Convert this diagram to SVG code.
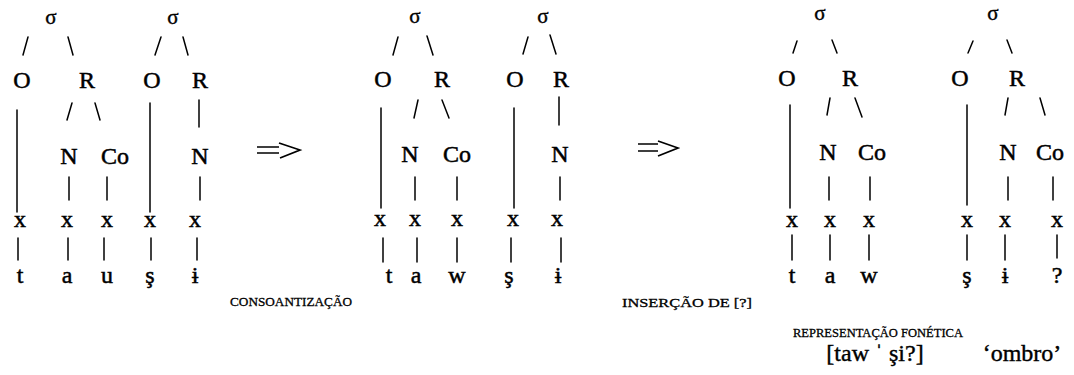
<svg xmlns="http://www.w3.org/2000/svg" width="1074" height="375" viewBox="0 0 1074 375">
  <style>
    text { font-family: "Liberation Serif", "DejaVu Serif", serif; fill: #000; text-anchor: middle; }
    .lab { font-size: 24px; stroke: #000; stroke-width: 0.5; }
    .sig { font-size: 21px; stroke: #000; stroke-width: 0.4; }
    .seg { font-size: 24px; stroke: #000; stroke-width: 0.5; }
    .cap { font-size: 13px; stroke: #000; stroke-width: 0.3; }
    .tr  { font-size: 24px; stroke: #000; stroke-width: 0.4; }
    .edge { stroke: #000; stroke-width: 1.5; fill: none; stroke-linecap: round; }
    .arr  { stroke: #000; stroke-width: 1.7; fill: none; stroke-linejoin: miter; }
  </style>
  <rect width="1074" height="375" fill="#fff"/>

  <!-- tree edges -->
  <g id="connectors">
    <!-- underlying form, syllable 1 -->
    <line class="edge" x1="23" y1="55" x2="28" y2="37"/>
    <line class="edge" x1="68" y1="37" x2="73" y2="55"/>
    <line class="edge" x1="67" y1="120" x2="72" y2="103"/>
    <line class="edge" x1="95" y1="103" x2="100" y2="120"/>
    <line class="edge" x1="17" y1="110" x2="17" y2="212"/>
    <line class="edge" x1="69" y1="177" x2="69" y2="200"/>
    <line class="edge" x1="107" y1="177" x2="107" y2="200"/>
    <line class="edge" x1="18" y1="238" x2="18" y2="260"/>
    <line class="edge" x1="68" y1="238" x2="68" y2="260"/>
    <line class="edge" x1="104" y1="238" x2="104" y2="260"/>
    <!-- underlying form, syllable 2 -->
    <line class="edge" x1="155" y1="55" x2="161" y2="37"/>
    <line class="edge" x1="183" y1="37" x2="188" y2="55"/>
    <line class="edge" x1="199" y1="100" x2="199" y2="127"/>
    <line class="edge" x1="150" y1="103" x2="150" y2="212"/>
    <line class="edge" x1="200" y1="177" x2="200" y2="200"/>
    <line class="edge" x1="151" y1="238" x2="151" y2="260"/>
    <line class="edge" x1="197" y1="238" x2="197" y2="260"/>
    <!-- after consonantization, syllable 1 -->
    <line class="edge" x1="393" y1="55" x2="398" y2="37"/>
    <line class="edge" x1="427" y1="36" x2="433" y2="55"/>
    <line class="edge" x1="414" y1="118" x2="418" y2="100"/>
    <line class="edge" x1="442" y1="100" x2="449" y2="118"/>
    <line class="edge" x1="381" y1="108" x2="381" y2="208"/>
    <line class="edge" x1="415" y1="177" x2="415" y2="200"/>
    <line class="edge" x1="457" y1="177" x2="457" y2="200"/>
    <line class="edge" x1="383" y1="238" x2="383" y2="262"/>
    <line class="edge" x1="417" y1="238" x2="417" y2="262"/>
    <line class="edge" x1="457" y1="238" x2="457" y2="262"/>
    <!-- after consonantization, syllable 2 -->
    <line class="edge" x1="523" y1="54" x2="528" y2="37"/>
    <line class="edge" x1="550" y1="35" x2="556" y2="54"/>
    <line class="edge" x1="559" y1="97" x2="559" y2="125"/>
    <line class="edge" x1="514" y1="108" x2="514" y2="208"/>
    <line class="edge" x1="560" y1="177" x2="560" y2="200"/>
    <line class="edge" x1="511" y1="238" x2="511" y2="262"/>
    <line class="edge" x1="561" y1="238" x2="561" y2="262"/>
    <!-- phonetic form, syllable 1 -->
    <line class="edge" x1="793" y1="53" x2="797" y2="41"/>
    <line class="edge" x1="832" y1="40" x2="837" y2="53"/>
    <line class="edge" x1="827" y1="115" x2="830" y2="98"/>
    <line class="edge" x1="855" y1="98" x2="862" y2="117"/>
    <line class="edge" x1="790" y1="105" x2="790" y2="208"/>
    <line class="edge" x1="829" y1="177" x2="829" y2="200"/>
    <line class="edge" x1="870" y1="177" x2="870" y2="200"/>
    <line class="edge" x1="792" y1="235" x2="792" y2="260"/>
    <line class="edge" x1="830" y1="235" x2="830" y2="260"/>
    <line class="edge" x1="869" y1="235" x2="869" y2="260"/>
    <!-- phonetic form, syllable 2 -->
    <line class="edge" x1="968" y1="53" x2="973" y2="41"/>
    <line class="edge" x1="1007" y1="40" x2="1012" y2="53"/>
    <line class="edge" x1="1005" y1="115" x2="1008" y2="98"/>
    <line class="edge" x1="1040" y1="98" x2="1045" y2="115"/>
    <line class="edge" x1="967" y1="105" x2="967" y2="205"/>
    <line class="edge" x1="1008" y1="177" x2="1008" y2="200"/>
    <line class="edge" x1="1053" y1="177" x2="1053" y2="200"/>
    <line class="edge" x1="967" y1="235" x2="967" y2="260"/>
    <line class="edge" x1="1005" y1="235" x2="1005" y2="260"/>
    <line class="edge" x1="1057" y1="235" x2="1057" y2="258"/>
  </g>

  <!-- derivation arrows -->
  <g id="arrows">
    <path class="arr" d="M257 147 H279 M257 153 H279 M279 143 L300 150 L280 158"/>
    <path class="arr" d="M638 144 H658 M638 151 H658 M658 141 L678 148 L658 156"/>
  </g>

  <!-- underlying form -->
  <g id="u-s1-sigma"><text class="sig" x="51" y="24">σ</text></g>
  <g id="u-s1-O"><text class="lab" x="22" y="88">O</text></g>
  <g id="u-s1-R"><text class="lab" x="87" y="88">R</text></g>
  <g id="u-s1-N"><text class="lab" x="69" y="164">N</text></g>
  <g id="u-s1-Co"><text class="lab" x="115" y="164">Co</text></g>
  <g id="u-s1-x1"><text class="seg" x="20" y="227">x</text></g>
  <g id="u-s1-x2"><text class="seg" x="67" y="227">x</text></g>
  <g id="u-s1-x3"><text class="seg" x="107" y="227">x</text></g>
  <g id="u-s1-t"><text class="seg" x="20" y="283">t</text></g>
  <g id="u-s1-a"><text class="seg" x="67" y="283">a</text></g>
  <g id="u-s1-u"><text class="seg" x="107" y="283">u</text></g>

  <g id="u-s2-sigma"><text class="sig" x="173" y="24">σ</text></g>
  <g id="u-s2-O"><text class="lab" x="152" y="88">O</text></g>
  <g id="u-s2-R"><text class="lab" x="200" y="88">R</text></g>
  <g id="u-s2-N"><text class="lab" x="200" y="164">N</text></g>
  <g id="u-s2-x1"><text class="seg" x="150" y="227">x</text></g>
  <g id="u-s2-x2"><text class="seg" x="195" y="227">x</text></g>
  <g id="u-s2-s"><text class="seg" x="150" y="283">ş</text></g>
  <g id="u-s2-i"><text class="seg" x="195" y="283">ɨ</text></g>

  <g id="label-consoantizacao"><text class="cap" x="291" y="306" textLength="122" lengthAdjust="spacingAndGlyphs">CONSOANTIZAÇÃO</text></g>

  <!-- after consonantization -->
  <g id="c-s1-sigma"><text class="sig" x="415" y="23">σ</text></g>
  <g id="c-s1-O"><text class="lab" x="383" y="87">O</text></g>
  <g id="c-s1-R"><text class="lab" x="442" y="87">R</text></g>
  <g id="c-s1-N"><text class="lab" x="410" y="162">N</text></g>
  <g id="c-s1-Co"><text class="lab" x="457" y="162">Co</text></g>
  <g id="c-s1-x1"><text class="seg" x="380" y="226">x</text></g>
  <g id="c-s1-x2"><text class="seg" x="415" y="226">x</text></g>
  <g id="c-s1-x3"><text class="seg" x="457" y="226">x</text></g>
  <g id="c-s1-t"><text class="seg" x="389" y="283">t</text></g>
  <g id="c-s1-a"><text class="seg" x="416" y="283">a</text></g>
  <g id="c-s1-w"><text class="seg" x="457" y="283">w</text></g>

  <g id="c-s2-sigma"><text class="sig" x="543" y="23">σ</text></g>
  <g id="c-s2-O"><text class="lab" x="515" y="87">O</text></g>
  <g id="c-s2-R"><text class="lab" x="561" y="87">R</text></g>
  <g id="c-s2-N"><text class="lab" x="560" y="162">N</text></g>
  <g id="c-s2-x1"><text class="seg" x="513" y="226">x</text></g>
  <g id="c-s2-x2"><text class="seg" x="557" y="226">x</text></g>
  <g id="c-s2-s"><text class="seg" x="509" y="283">ş</text></g>
  <g id="c-s2-i"><text class="seg" x="558" y="283">ɨ</text></g>

  <g id="label-insercao"><text class="cap" x="687" y="307" textLength="130" lengthAdjust="spacingAndGlyphs">INSERÇÃO DE [?]</text></g>

  <!-- phonetic form -->
  <g id="p-s1-sigma"><text class="sig" x="820" y="20">σ</text></g>
  <g id="p-s1-O"><text class="lab" x="787" y="86">O</text></g>
  <g id="p-s1-R"><text class="lab" x="850" y="86">R</text></g>
  <g id="p-s1-N"><text class="lab" x="828" y="160">N</text></g>
  <g id="p-s1-Co"><text class="lab" x="872" y="160">Co</text></g>
  <g id="p-s1-x1"><text class="seg" x="792" y="227">x</text></g>
  <g id="p-s1-x2"><text class="seg" x="830" y="227">x</text></g>
  <g id="p-s1-x3"><text class="seg" x="869" y="227">x</text></g>
  <g id="p-s1-t"><text class="seg" x="792" y="283">t</text></g>
  <g id="p-s1-a"><text class="seg" x="830" y="283">a</text></g>
  <g id="p-s1-w"><text class="seg" x="869" y="283">w</text></g>

  <g id="p-s2-sigma"><text class="sig" x="993" y="20">σ</text></g>
  <g id="p-s2-O"><text class="lab" x="960" y="86">O</text></g>
  <g id="p-s2-R"><text class="lab" x="1017" y="86">R</text></g>
  <g id="p-s2-N"><text class="lab" x="1008" y="160">N</text></g>
  <g id="p-s2-Co"><text class="lab" x="1050" y="160">Co</text></g>
  <g id="p-s2-x1"><text class="seg" x="967" y="227">x</text></g>
  <g id="p-s2-x2"><text class="seg" x="1005" y="227">x</text></g>
  <g id="p-s2-x3"><text class="seg" x="1057" y="227">x</text></g>
  <g id="p-s2-s"><text class="seg" x="967" y="283">ş</text></g>
  <g id="p-s2-i"><text class="seg" x="1005" y="283">ɨ</text></g>
  <g id="p-s2-q"><text class="seg" x="1057" y="283">?</text></g>

  <g id="label-representacao"><text class="cap" x="878" y="337" textLength="170" lengthAdjust="spacingAndGlyphs">REPRESENTAÇÃO FONÉTICA</text></g>
  <g id="transcription"><text class="tr" x="875" y="361">[taw ˈ şi?]</text></g>
  <g id="gloss"><text class="tr" x="1022" y="361">‘ombro’</text></g>
</svg>
